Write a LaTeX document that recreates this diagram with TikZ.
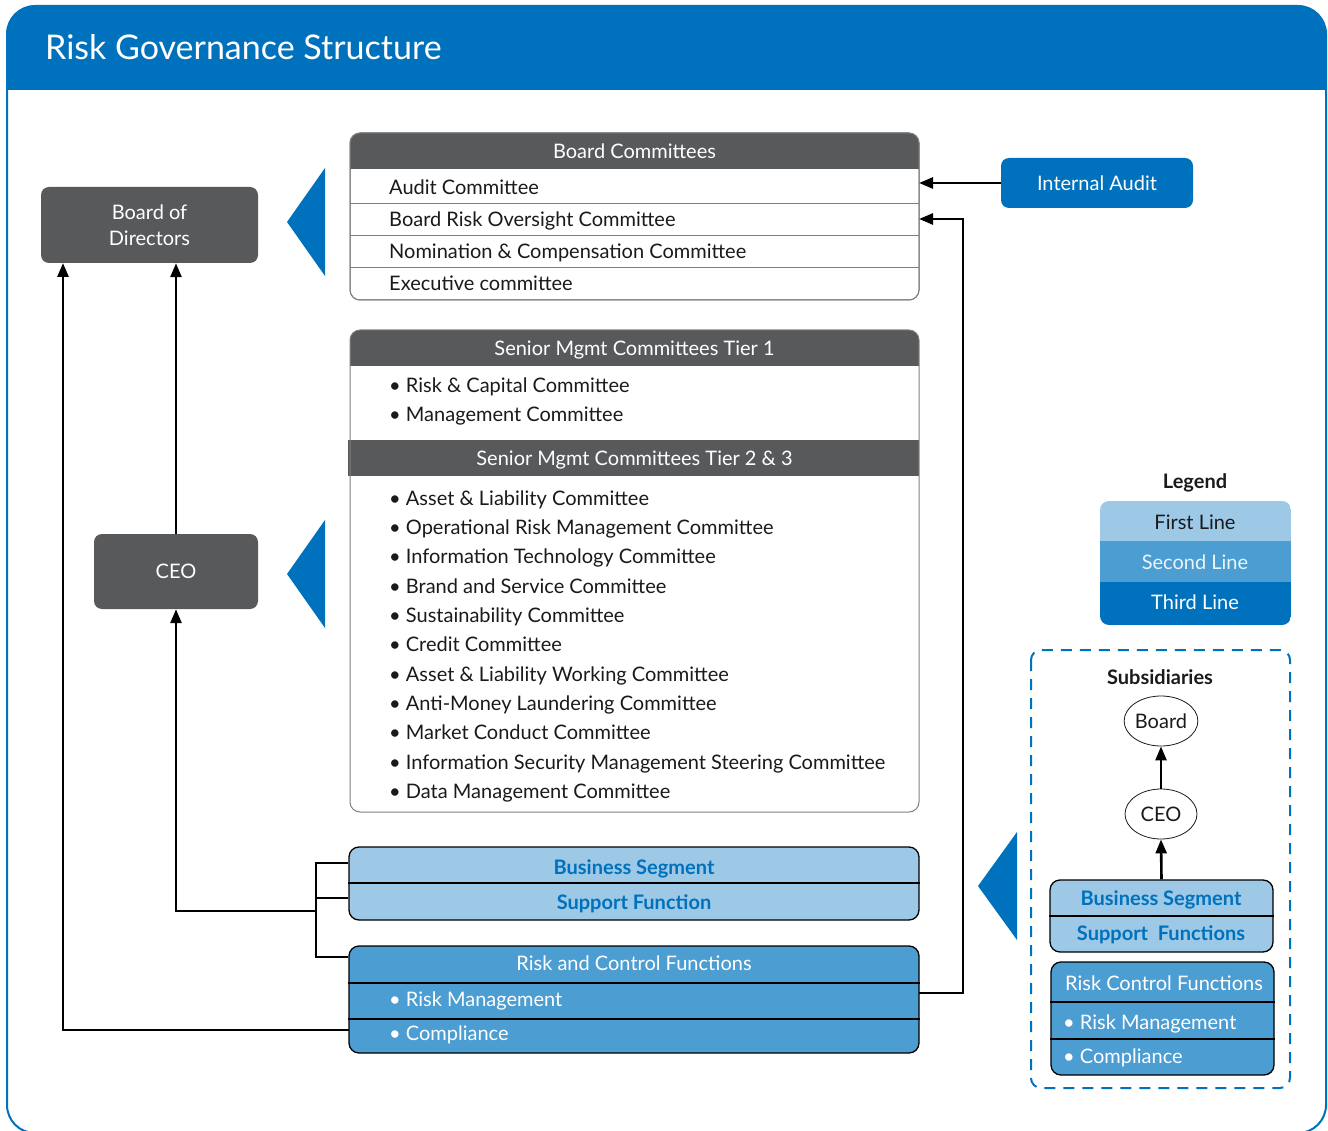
\documentclass[tikz,border=0pt]{standalone}
\usepackage{fontspec}
\setmainfont{Lato}
\usetikzlibrary{arrows.meta,shapes.geometric}
\definecolor{dgray}{HTML}{58595B}
\definecolor{mblue}{HTML}{0071BC}
\definecolor{lblue}{HTML}{9DC8E6}
\definecolor{sblue}{HTML}{4C9DD2}
\definecolor{ink}{HTML}{1A1A1A}
\definecolor{gline}{HTML}{7F7F7F}
\begin{document}
\begin{tikzpicture}[x=1pt,y=-1pt,
  txt/.style={font=\fontsize{20}{24}\selectfont, inner sep=0pt, anchor=base west, yshift=-7pt, text=ink},
  ctxt/.style={font=\fontsize{20}{24}\selectfont, inner sep=0pt, anchor=base, yshift=-7pt, text=ink},
  hdr/.style={font=\fontsize{20}{24}\selectfont, inner sep=0pt, anchor=base, yshift=-7pt, text=white},
  btxt/.style={font=\fontsize{20}{24}\selectfont\bfseries, inner sep=0pt, anchor=base, yshift=-7pt, text=mblue},
  grayboxst/.style={fill=dgray, rounded corners=8pt, inner sep=0pt, text=white, align=center, font=\fontsize{20}{26}\selectfont},
  conn/.style={line width=2.6pt, draw=black},
  arr/.style={conn, -{Triangle[length=14pt,width=11pt]}},
  pointer/.style={fill=mblue},
  ell/.style={ellipse, draw=ink, line width=0.8pt, minimum width=72pt, minimum height=50pt, inner sep=0pt, font=\fontsize{20}{24}\selectfont, text=ink}
]
\useasboundingbox (0,0) rectangle (1328,1131);

% frame and header
\begin{scope}
  \clip (0,0) rectangle (1328,1131);
  \begin{scope}
    \clip[rounded corners=28pt] (7,6) rectangle (1326,1133);
    \fill[mblue] (0,0) rectangle (1328,90);
  \end{scope}
  \draw[mblue, line width=2pt, rounded corners=28pt] (7,6) rectangle (1326,1133);
\end{scope}
\node[anchor=base west, inner sep=0pt, text=white, font=\fontsize{34}{40}\selectfont] (title) at (45,60) {Risk Governance Structure};

% Board of Directors and CEO
\node[grayboxst, minimum width=217pt, minimum height=76pt] (bod) at (149.5,225) {Board of\\Directors};
\node[grayboxst, minimum width=164pt, minimum height=75pt] (ceo) at (176,571.5) {CEO};

% pointers
\fill[pointer] (325,168) -- (287,222) -- (325,276) -- cycle;
\fill[pointer] (325,520) -- (287,574) -- (325,628) -- cycle;
\fill[pointer] (1017,832) -- (978,886) -- (1017,940) -- cycle;

% Board Committees
\node[draw=gline, line width=1pt, fill=white, rounded corners=10pt, minimum width=569pt, minimum height=167pt, inner sep=0pt] (bc) at (634.5,216.5) {};
\begin{scope}
  \clip[rounded corners=10pt] (350,133) rectangle (919,300);
  \fill[dgray] (350,133) rectangle (919,169);
\end{scope}
\draw[gline, line width=1pt, rounded corners=10pt] (350,133) rectangle (919,300);
\foreach \yy in {204,236,268} \draw[gline, line width=1pt] (350,\yy) -- (919,\yy);
\node[hdr] (bch) at (634.5,152) {Board Committees};
\node[txt] (ac) at (389,188) {Audit Committee};
\node[txt] (bro) at (389,220) {Board Risk Oversight Committee};
\node[txt] (nc) at (389,252) {Nomination \& Compensation Committee};
\node[txt] (ec) at (389,284) {Executive committee};

% Senior Mgmt committees
\node[fill=white, inner sep=0pt, minimum width=569pt, minimum height=482pt] (sm) at (634.5,571) {};
\begin{scope}
  \clip[rounded corners=10pt] (350,330) rectangle (919,812);
  \fill[dgray] (350,330) rectangle (919,366);
\end{scope}
\fill[dgray] (348,440) rectangle (919,476);
\draw[gline, line width=1pt, rounded corners=10pt] (350,330) rectangle (919,812);
\node[hdr] (t1) at (634.5,349) {Senior Mgmt Committees Tier 1};
\node[txt] (r1) at (389,385) {• Risk \& Capital Committee};
\node[txt] (r2) at (389,414) {• Management Committee};
\node[hdr] (t2) at (634.5,458) {Senior Mgmt Committees Tier 2 \& 3};
\node[txt] (s1) at (389,498) {• Asset \& Liability Committee};
\node[txt] (s2) at (389,527) {• Operational Risk Management Committee};
\node[txt] (s3) at (389,556) {• Information Technology Committee};
\node[txt] (s4) at (389,586) {• Brand and Service Committee};
\node[txt] (s5) at (389,615) {• Sustainability Committee};
\node[txt] (s6) at (389,644) {• Credit Committee};
\node[txt] (s7) at (389,674) {• Asset \& Liability Working Committee};
\node[txt] (s8) at (389,703) {• Anti-Money Laundering Committee};
\node[txt] (s9) at (389,732) {• Market Conduct Committee};
\node[txt] (s10) at (389,762) {• Information Security Management Steering Committee};
\node[txt] (s11) at (389,791) {• Data Management Committee};

% Business segment / support function
\node[draw=black, line width=1.3pt, fill=lblue, rounded corners=10pt, minimum width=570pt, minimum height=73pt, inner sep=0pt] (bs) at (634,883.5) {};
\draw[black, line width=1.3pt] (bs.west |- 0,883) -- (bs.east |- 0,883);
\node[btxt] (bst) at (634,867) {Business Segment};
\node[btxt] (sft) at (634,902) {Support Function};

% Risk and control functions
\node[draw=black, line width=1.3pt, fill=sblue, rounded corners=10pt, minimum width=570pt, minimum height=107pt, inner sep=0pt] (rc) at (634,999.5) {};
\draw[black, line width=1.3pt] (rc.west |- 0,983) -- (rc.east |- 0,983);
\draw[black, line width=1.3pt] (rc.west |- 0,1019) -- (rc.east |- 0,1019);
\node[hdr] (rct) at (634,963) {Risk and Control Functions};
\node[txt, text=white] (rmt) at (389,999) {• Risk Management};
\node[txt, text=white] (cpt) at (389,1033) {• Compliance};

% Internal audit
\node[fill=mblue, rounded corners=8pt, minimum width=192pt, minimum height=50pt, inner sep=0pt, text=white, font=\fontsize{20}{24}\selectfont] (ia) at (1097,183) {Internal Audit};

% connectors
\coordinate (bcA) at (919,183);
\coordinate (bcB) at (919,219);
\coordinate (rcR) at (919,993);
\coordinate (cpL) at (349,1030);
\coordinate (bodL) at (63,263);
\coordinate (brk) at (316,911);
\draw[arr] (ia.west) -- (bcA);
\draw[arr] (rcR) -- (963,993) |- (bcB);
\draw[arr] (ceo.north) -- (ceo.north |- bod.south);
\draw[arr] (cpL) -| (bodL);
\draw[conn] (bs.west |- 0,863) -- (316,863) -- (316,957) -- (rc.west |- 0,957);
\draw[conn] (316,898) -- (bs.west |- 0,898);
\draw[arr] (brk) -| (ceo.south);

% Legend
\node[font=\fontsize{20}{24}\selectfont\bfseries, inner sep=0pt, anchor=base, yshift=-7pt, text=ink] (leg) at (1195,481) {Legend};
\begin{scope}
  \clip[rounded corners=9pt] (1100,501) rectangle (1291,625);
  \fill[lblue] (1100,501) rectangle (1291,541);
  \fill[sblue] (1100,541) rectangle (1291,582);
  \fill[mblue] (1100,582) rectangle (1291,625);
\end{scope}
\node[ctxt] (l1) at (1195,522) {First Line};
\node[ctxt, text=white!92!mblue] (l2) at (1195,562) {Second Line};
\node[ctxt, text=white] (l3) at (1195,602) {Third Line};

% Subsidiaries
\draw[mblue, line width=2pt, dash pattern=on 11pt off 8pt, rounded corners=10pt] (1031,650) rectangle (1290,1088);
\node[font=\fontsize{20}{24}\selectfont\bfseries, inner sep=0pt, anchor=base, yshift=-7pt, text=ink] (sub) at (1160,677) {Subsidiaries};
\node[ell] (sboard) at (1161,721) {Board};
\node[ell] (sceo) at (1161,814) {CEO};
\node[draw=black, line width=1.3pt, fill=lblue, rounded corners=10pt, minimum width=223pt, minimum height=72pt, inner sep=0pt] (sbs) at (1161.5,916) {};
\draw[black, line width=1.3pt] (sbs.west |- 0,916) -- (sbs.east |- 0,916);
\node[btxt] (sbst) at (1161,898) {Business Segment};
\node[btxt] (ssft) at (1161,933) {Support\ \ Functions};
\node[draw=black, line width=1.3pt, fill=sblue, rounded corners=10pt, minimum width=223pt, minimum height=113pt, inner sep=0pt] (src) at (1162.5,1018.5) {};
\draw[black, line width=1.3pt] (src.west |- 0,1002) -- (src.east |- 0,1002);
\draw[black, line width=1.3pt] (src.west |- 0,1039) -- (src.east |- 0,1039);
\node[hdr] (srct) at (1164,983) {Risk Control Functions};
\node[txt, text=white] (srmt) at (1063,1022) {• Risk Management};
\node[txt, text=white] (scpt) at (1063,1056) {• Compliance};
\draw[arr] (sceo.north) -- (sboard.south);
\draw[arr] (sbs.north) -- (sceo.south);
\end{tikzpicture}
\end{document}
